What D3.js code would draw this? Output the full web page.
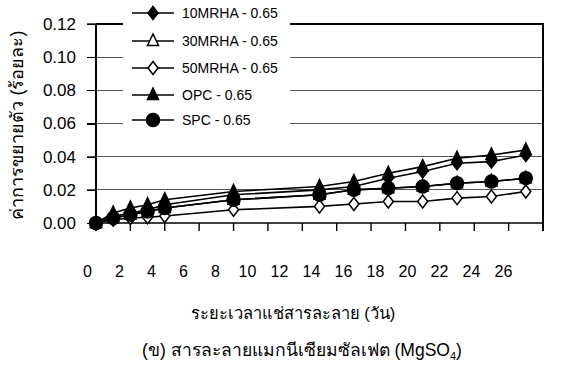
<!DOCTYPE html>
<html lang="th">
<head>
<meta charset="UTF-8">
<title>MgSO4</title>
<script src="https://cdn.jsdelivr.net/npm/d3@7"></script>
<style>
  body{margin:0;background:#fff;}
  svg{font-family:"Liberation Sans",Arial,sans-serif;}
  .grid line{stroke:#555;stroke-width:1.2;shape-rendering:crispEdges;}
  .axis path,.axis line{stroke:#000;stroke-width:1.3;shape-rendering:crispEdges;}
</style>
</head>
<body>
<div id="root"></div>
<script>
  // days of immersion
  let days = [0, 1, 2, 3, 4, 8, 13, 15, 17, 19, 21, 23, 25]
  let seriesNames = ["10MRHA - 0.65", "30MRHA - 0.65", "50MRHA - 0.65", "OPC - 0.65", "SPC - 0.65"]
  let mrha10 = [0, 0.004, 0.006, 0.008, 0.011, 0.017, 0.020, 0.022, 0.027, 0.031, 0.036, 0.037, 0.041]
  let mrha30 = [0, 0.003, 0.005, 0.007, 0.009, 0.014, 0.017, 0.020, 0.021, 0.022, 0.024, 0.025, 0.027]
  let mrha50 = [0, 0.002, 0.003, 0.0035, 0.0042, 0.008, 0.010, 0.0115, 0.013, 0.013, 0.015, 0.016, 0.019]
  let opc = [0, 0.006, 0.009, 0.011, 0.014, 0.019, 0.022, 0.025, 0.030, 0.034, 0.039, 0.041, 0.044]
  let spc = [0, 0.003, 0.005, 0.007, 0.009, 0.014, 0.017, 0.020, 0.021, 0.022, 0.024, 0.025, 0.027]
  let xTicks = [0, 2, 4, 6, 8, 10, 12, 14, 16, 18, 20, 22, 24, 26]
  let yTicks = [0, 0.02, 0.04, 0.06, 0.08, 0.10, 0.12]

  let width = 566, height = 366
  let svg = d3.select("#root").append("svg").attr("width", width).attr("height", height)

  let x = d3.scaleLinear().domain([0, 26]).range([96, 543])
  let xLab = d3.scaleLinear().domain([0, 26]).range([87, 503])
  let y = d3.scaleLinear().domain([0, 0.12]).range([223, 24])

  // grid lines
  svg.append("g").attr("class", "grid").selectAll("line").data(yTicks.slice(1)).join("line")
    .attr("x1", 87).attr("x2", x(26)).attr("y1", d => y(d)).attr("y2", d => y(d))

  // right and top border
  svg.append("path").attr("d", "M" + x(0) + "," + y(0.12) + "H" + x(26) + "V" + (y(0) + 8))
    .attr("fill", "none").attr("stroke", "#000").attr("stroke-width", 1.3).attr("shape-rendering", "crispEdges")

  let yAxis = d3.axisLeft(y).tickValues(yTicks).tickSize(9).tickPadding(11).tickFormat(d3.format(".2f"))
  svg.append("g").attr("class", "axis").attr("transform", "translate(" + x(0) + ",0)").call(yAxis)
    .call(g => g.select(".domain").attr("d", "M0," + y(0.12) + "V" + (y(0) + 8)))
    .selectAll("text").attr("font-size", 17).attr("fill", "#000").attr("font-family", null)

  // x axis line and tick marks
  svg.append("line").attr("x1", x(0)).attr("x2", x(26)).attr("y1", y(0)).attr("y2", y(0))
    .attr("stroke", "#000").attr("stroke-width", 1.3)
  svg.append("g").selectAll("line").data(xTicks).join("line")
    .attr("x1", d => x(d)).attr("x2", d => x(d)).attr("y1", y(0)).attr("y2", y(0) + 8)
    .attr("stroke", "#000").attr("stroke-width", 1.4)

  let xLabels = d3.axisBottom(xLab).tickValues(xTicks).tickSize(0).tickPadding(0)
  svg.append("g").attr("transform", "translate(0,266)").call(xLabels)
    .call(g => g.select(".domain").remove())
    .selectAll("text").attr("font-size", 16).attr("fill", "#000").attr("font-family", null)

  // series
  let series = [mrha10, mrha30, mrha50, opc, spc]
  let shapes = ["diamond", "triangle", "diamond", "triangle", "circle"]
  let fills = ["#000", "#fff", "#fff", "#000", "#000"]

  function marker(g, shape, fill) {
    if (shape == "diamond") {
      g.append("path").attr("d", "M0,-6.5L5,0L0,6.5L-5,0Z")
    } else if (shape == "triangle") {
      g.append("path").attr("d", "M0,-7L5.5,4.5L-5.5,4.5Z")
    } else {
      g.append("circle").attr("r", 6.5)
    }
    g.selectAll("path,circle").attr("fill", fill).attr("stroke", "#000").attr("stroke-width", 1.5)
  }

  let line = d3.line().x((d, i) => x(days[i])).y(d => y(d))
  series.forEach((s, k) => {
    let g = svg.append("g")
    g.append("path").attr("d", line(s)).attr("fill", "none").attr("stroke", "#000").attr("stroke-width", 1.6)
    g.selectAll("g").data(s).join("g")
      .attr("transform", (d, i) => "translate(" + x(days[i]) + "," + y(d) + ")")
      .each(function () { marker(d3.select(this), shapes[k], fills[k]) })
  })

  // legend
  let legend = svg.append("g")
  legend.append("rect").attr("x", 123).attr("y", 0).attr("width", 167).attr("height", 132).attr("fill", "#fff")
  let rowY = [13, 41, 68, 95, 120]
  seriesNames.forEach((n, k) => {
    let r = legend.append("g").attr("transform", "translate(0," + rowY[k] + ")")
    r.append("line").attr("x1", 132).attr("x2", 174).attr("stroke", "#000").attr("stroke-width", 1.6)
    let m = r.append("g").attr("transform", "translate(153,0)")
    marker(m, shapes[k], fills[k])
    r.append("text").attr("x", 182).attr("y", 5).attr("font-size", 14).text(n)
  })

  // titles
  svg.append("text").attr("transform", "translate(23,125) rotate(-90)").attr("text-anchor", "middle")
    .attr("font-size", 18).text("ค่าการขยายตัว (ร้อยละ)")
  svg.append("text").attr("x", 293).attr("y", 319).attr("text-anchor", "middle")
    .attr("font-size", 16.5).text("ระยะเวลาแช่สารละลาย (วัน)")
  let cap = svg.append("text").attr("x", 302).attr("y", 356).attr("text-anchor", "middle").attr("font-size", 17.5)
  cap.append("tspan").text("(ข) สารละลายแมกนีเซียมซัลเฟต (MgSO")
  cap.append("tspan").attr("font-size", 11).attr("dy", 4).text("4")
  cap.append("tspan").attr("dy", -4).text(")")
</script>
</body>
</html>
